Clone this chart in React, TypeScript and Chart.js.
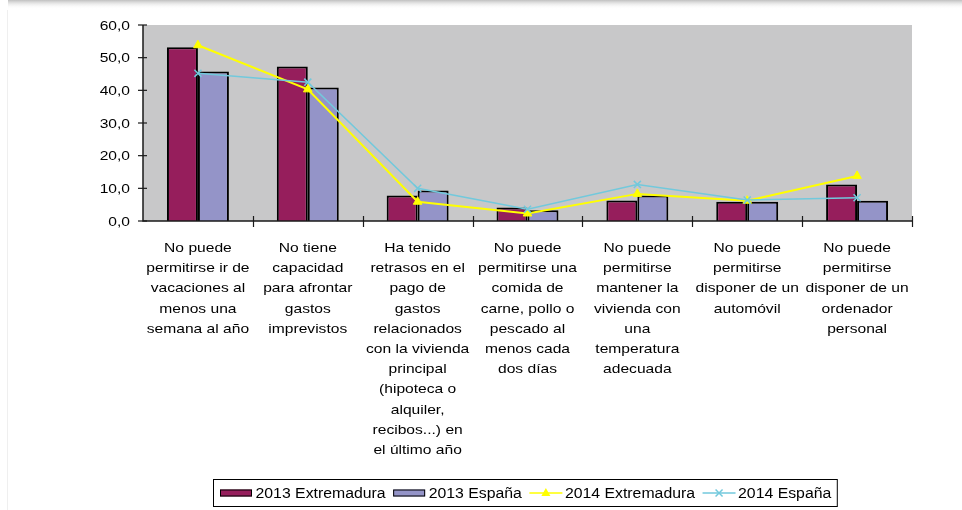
import React, { useEffect, useRef } from 'react';
import { Chart, registerables } from 'chart.js';

Chart.register(...registerables);

// ---------- data ----------
const categories: string[][] = [
  ['No puede', 'permitirse ir de', 'vacaciones al', 'menos una', 'semana al año'],
  ['No tiene', 'capacidad', 'para afrontar', 'gastos', 'imprevistos'],
  ['Ha tenido', 'retrasos en el', 'pago de', 'gastos', 'relacionados', 'con la vivienda', 'principal', '(hipoteca o', 'alquiler,', 'recibos...) en', 'el último año'],
  ['No puede', 'permitirse una', 'comida de', 'carne, pollo o', 'pescado al', 'menos cada', 'dos días'],
  ['No puede', 'permitirse', 'mantener la', 'vivienda con', 'una', 'temperatura', 'adecuada'],
  ['No puede', 'permitirse', 'disponer de un', 'automóvil'],
  ['No puede', 'permitirse', 'disponer de un', 'ordenador', 'personal'],
];

const seriesNames = ['2013 Extremadura', '2013 España', '2014 Extremadura', '2014 España'];

const extremadura2013 = [53.2, 47.3, 7.8, 4.1, 6.3, 5.9, 11.2];
const espana2013 = [45.8, 40.9, 9.3, 3.3, 7.8, 5.9, 6.2];
const extremadura2014 = [53.8, 40.3, 5.9, 2.3, 8.3, 6.2, 13.8];
const espana2014 = [45.2, 42.5, 10.0, 3.6, 11.2, 6.4, 7.1];

const yTickValues = [0, 10, 20, 30, 40, 50, 60];

// ---------- styles ----------
const MAROON = '#961E5C';
const LAVENDER = '#9494C8';
const YELLOW = '#FFFF00';
const CYAN = '#72C9DC';
const PLOT_BG = '#C8C8C9';
const FONT = '"Liberation Sans", Arial, sans-serif';
const TEXT_SX = 1.2; // horizontal stretch of the reference's text
const LEGEND_SX = 1.13;

function stretchText(ctx: CanvasRenderingContext2D, text: string, x: number, y: number, align: CanvasTextAlign, sx: number) {
  ctx.save();
  ctx.translate(x, y);
  ctx.scale(sx, 1);
  ctx.textAlign = align;
  ctx.fillText(text, 0, 0);
  ctx.restore();
}

const decorPlugin = {
  id: 'decor',
  beforeDraw(chart: any) {
    const { ctx, chartArea: a } = chart;
    ctx.save();
    ctx.fillStyle = '#ffffff';
    ctx.fillRect(0, 0, chart.width, chart.height);
    const g = ctx.createLinearGradient(0, 0, 0, 9);
    g.addColorStop(0, 'rgba(140,140,140,0.55)');
    g.addColorStop(1, 'rgba(255,255,255,0)');
    ctx.fillStyle = g;
    ctx.fillRect(8, 0, chart.width - 8, 9);
    ctx.fillStyle = '#efefef';
    ctx.fillRect(7, 10, 1, chart.height - 10);
    ctx.fillStyle = PLOT_BG;
    ctx.fillRect(a.left, a.top, a.right - a.left, a.bottom - a.top);
    ctx.restore();
  },
  afterDraw(chart: any) {
    const { ctx, chartArea: a } = chart;
    const xs = chart.scales.x;
    const ys = chart.scales.y;
    ctx.save();

    // axes
    ctx.strokeStyle = '#1a1a1a';
    ctx.lineWidth = 1.5;
    ctx.beginPath();
    ctx.moveTo(a.left, a.top);
    ctx.lineTo(a.left, a.bottom);
    ctx.lineTo(a.right, a.bottom);
    ctx.stroke();

    // y ticks + labels
    ctx.lineWidth = 1.2;
    ctx.fillStyle = '#000';
    ctx.font = `13px ${FONT}`;
    ctx.textBaseline = 'middle';
    yTickValues.forEach((v) => {
      const y = ys.getPixelForValue(v);
      ctx.beginPath();
      ctx.moveTo(a.left - 5, y);
      ctx.lineTo(a.left + 4, y);
      ctx.stroke();
      stretchText(ctx, v.toFixed(1).replace('.', ','), a.left - 13, y + 1, 'right', TEXT_SX);
    });

    // x ticks at category boundaries
    const n = categories.length;
    const cw = (a.right - a.left) / n;
    for (let i = 1; i <= n; i++) {
      const x = Math.round(a.left + i * cw) + 0.5;
      ctx.beginPath();
      ctx.moveTo(x, a.bottom - 5);
      ctx.lineTo(x, a.bottom + 6);
      ctx.stroke();
    }

    // x labels
    ctx.textBaseline = 'alphabetic';
    categories.forEach((lines, i) => {
      const cx = xs.getPixelForValue(i);
      lines.forEach((ln, j) => {
        stretchText(ctx, ln, cx, a.bottom + 31 + j * 20.2, 'center', TEXT_SX);
      });
    });

    // legend
    ctx.font = `14px ${FONT}`;
    const fills = [MAROON, LAVENDER, YELLOW, CYAN];
    let x = 220;
    const yMid = 493;
    seriesNames.forEach((name, i) => {
      if (i < 2) {
        ctx.fillStyle = fills[i];
        ctx.fillRect(x, 489.5, 32, 7);
        ctx.strokeStyle = '#000';
        ctx.lineWidth = 1;
        ctx.strokeRect(x + 0.5, 490, 31, 6);
      } else {
        ctx.strokeStyle = fills[i];
        ctx.lineWidth = 1.5;
        ctx.beginPath();
        ctx.moveTo(x, yMid);
        ctx.lineTo(x + 33, yMid);
        ctx.stroke();
        const mx = x + 16.5;
        if (i === 2) {
          ctx.fillStyle = YELLOW;
          ctx.beginPath();
          ctx.moveTo(mx, yMid - 5);
          ctx.lineTo(mx + 4.5, yMid + 3);
          ctx.lineTo(mx - 4.5, yMid + 3);
          ctx.closePath();
          ctx.fill();
        } else {
          ctx.beginPath();
          ctx.moveTo(mx - 3.5, yMid - 3.5);
          ctx.lineTo(mx + 3.5, yMid + 3.5);
          ctx.moveTo(mx + 3.5, yMid - 3.5);
          ctx.lineTo(mx - 3.5, yMid + 3.5);
          ctx.stroke();
        }
      }
      x += 35.5;
      ctx.fillStyle = '#000';
      stretchText(ctx, name, x, 497.5, 'left', LEGEND_SX);
      x += ctx.measureText(name).width * LEGEND_SX + 7.5;
    });
    ctx.strokeStyle = '#000';
    ctx.lineWidth = 1;
    ctx.strokeRect(213.5, 479.5, x - 7.5 + 6 - 213.5, 27);

    ctx.restore();
  },
};

export default function App() {
  const ref = useRef<HTMLCanvasElement | null>(null);

  useEffect(() => {
    if (!ref.current) return;
    const chart = new Chart(ref.current, {
      type: 'bar',
      data: {
        labels: categories.map((c) => c.join(' ')),
        datasets: [
          {
            type: 'line',
            label: seriesNames[3],
            data: espana2014,
            borderColor: CYAN,
            backgroundColor: CYAN,
            borderWidth: 1.5,
            pointStyle: 'crossRot',
            pointRadius: 5,
            pointBorderWidth: 1.5,
            pointBorderColor: CYAN,
            tension: 0,
            order: 0,
          } as any,
          {
            type: 'line',
            label: seriesNames[2],
            data: extremadura2014,
            borderColor: YELLOW,
            backgroundColor: YELLOW,
            borderWidth: 2,
            pointStyle: 'triangle',
            pointRadius: 5,
            pointBorderWidth: 1,
            pointBorderColor: YELLOW,
            pointBackgroundColor: YELLOW,
            tension: 0,
            order: 1,
          } as any,
          {
            type: 'bar',
            label: seriesNames[0],
            data: extremadura2013,
            backgroundColor: MAROON,
            borderColor: '#000',
            borderWidth: 2,
            categoryPercentage: 0.564,
            barPercentage: 1,
            order: 2,
          } as any,
          {
            type: 'bar',
            label: seriesNames[1],
            data: espana2013,
            backgroundColor: LAVENDER,
            borderColor: '#000',
            borderWidth: 2,
            categoryPercentage: 0.564,
            barPercentage: 1,
            order: 2,
          } as any,
        ],
      },
      options: {
        animation: false,
        responsive: false,
        devicePixelRatio: 1,
        layout: { padding: { top: 25, right: 50, left: 0, bottom: 0 } },
        plugins: { legend: { display: false }, tooltip: { enabled: false } },
        scales: {
          x: {
            offset: true,
            grid: { display: false },
            border: { display: false },
            ticks: { display: false },
            afterFit: (s: any) => { s.height = 510 - 221; },
          },
          y: {
            min: 0,
            max: 60,
            grid: { display: false },
            border: { display: false },
            ticks: { display: false, stepSize: 10 },
            afterFit: (s: any) => { s.width = 143; },
          },
        },
      } as any,
      plugins: [decorPlugin],
    });
    return () => chart.destroy();
  }, []);

  return (
    <div style={{ position: 'absolute', left: 0, top: 0, width: 962, height: 510 }}>
      <canvas ref={ref} width={962} height={510} />
    </div>
  );
}
